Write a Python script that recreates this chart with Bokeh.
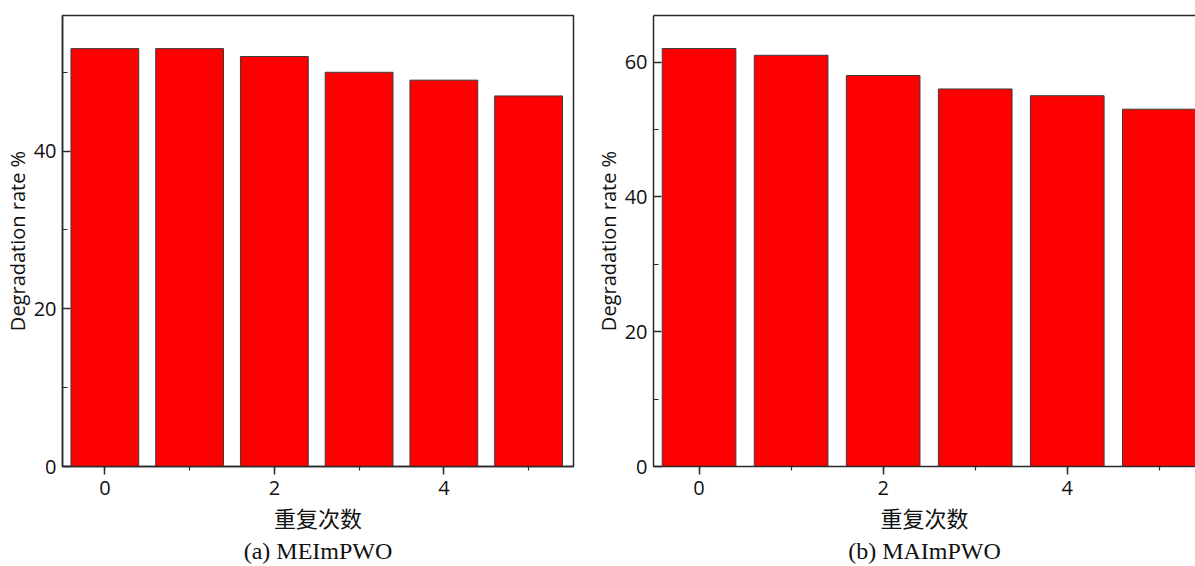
from bokeh.plotting import figure
from bokeh.models import Range1d, SingleIntervalTicker, LinearAxis, FixedTicker
from bokeh.layouts import row
from bokeh.embed import file_html
from bokeh.resources import INLINE

# ---- data ----
cycles = [0, 1, 2, 3, 4, 5]
rate_a = [53, 53, 52, 50, 49, 47]   # (a) MEImPWO
rate_b = [62, 61, 58, 56, 55, 53]   # (b) MAImPWO
x_label = "重复次数"
y_label = "Degradation rate %"
caption_a = "(a) MEImPWO"
caption_b = "(b) MAImPWO"

TICK_FONT = "Open Sans"
AXIS_COLOR = "#2b2b2b"
TEXT_COLOR = "#111111"


def blank_axis(**kw):
    return LinearAxis(ticker=FixedTicker(ticks=[]), major_tick_out=0, major_tick_in=0,
                      minor_tick_out=0, minor_tick_in=0, major_tick_line_color=None,
                      minor_tick_line_color=None, major_label_text_font_size="0px",
                      major_label_standoff=0, **kw)


def make_panel(values, caption, width, height, mb_left, mb_right, mb_top, mb_bottom,
               xr, yr, right_border):
    p = figure(width=width, height=height, output_backend="svg", toolbar_location=None,
               x_range=Range1d(*xr), y_range=Range1d(*yr),
               min_border_left=mb_left, min_border_right=mb_right,
               min_border_top=mb_top, min_border_bottom=mb_bottom,
               background_fill_color="white", border_fill_color="white")
    p.xgrid.grid_line_color = None
    p.ygrid.grid_line_color = None

    p.vbar(x=cycles, top=values, bottom=0, width=0.8, fill_color="#FF0000",
           line_color="#3c3c3c", line_width=1)

    xa = p.below[0]
    xa.ticker = SingleIntervalTicker(interval=2, num_minor_ticks=2)
    xa.major_tick_out = 8
    xa.major_tick_in = 0
    xa.minor_tick_out = 4
    xa.minor_tick_in = 0
    xa.axis_label = x_label
    xa.axis_label_text_font = "Noto Sans CJK SC"
    xa.axis_label_text_font_size = "22px"
    xa.axis_label_text_font_style = "normal"
    xa.axis_label_text_color = TEXT_COLOR
    xa.axis_label_standoff = 3
    xa.major_label_standoff = 6

    ya = p.left[0]
    ya.ticker = SingleIntervalTicker(interval=20, num_minor_ticks=2)
    ya.major_tick_in = 8
    ya.major_tick_out = 0
    ya.minor_tick_in = 5
    ya.minor_tick_out = 0
    ya.axis_label = y_label
    ya.axis_label_text_font = TICK_FONT
    ya.axis_label_text_font_size = "20px"
    ya.axis_label_text_font_style = "normal"
    ya.axis_label_text_color = TEXT_COLOR
    ya.axis_label_standoff = 0
    ya.major_label_standoff = 6

    for ax in (xa, ya):
        ax.axis_line_color = AXIS_COLOR
        ax.axis_line_width = 1.5
        ax.major_tick_line_color = AXIS_COLOR
        ax.major_tick_line_width = 1.5
        ax.minor_tick_line_color = AXIS_COLOR
        ax.minor_tick_line_width = 1.2
        ax.major_label_text_font = TICK_FONT
        ax.major_label_text_font_size = "20px"
        ax.major_label_text_color = TEXT_COLOR

    if right_border:
        p.outline_line_color = AXIS_COLOR
        p.outline_line_width = 1.5
    else:
        p.outline_line_color = None
        p.add_layout(blank_axis(axis_line_color=AXIS_COLOR, axis_line_width=1.5), "above")

    cap = blank_axis(axis_line_color=None, axis_label=caption,
                     axis_label_text_font="Liberation Serif",
                     axis_label_text_font_size="24px",
                     axis_label_text_font_style="normal",
                     axis_label_text_color=TEXT_COLOR, axis_label_standoff=2)
    p.add_layout(cap, "below")
    return p


p1 = make_panel(rate_a, caption_a, 590, 566, 62, 17, 13, 100,
                (-0.5, 5.53), (0, 57.2), True)
p2 = make_panel(rate_b, caption_b, 605, 566, 63, 0, 15, 99,
                (-0.495, 5.393), (0, 66.9), False)

layout = row(p1, p2, width=1195, height=566)
open("out.html", "w").write(file_html(layout, INLINE))
